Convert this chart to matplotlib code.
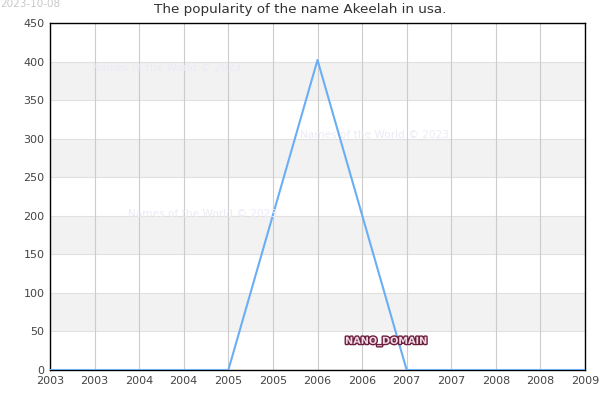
import numpy as np
import matplotlib.pyplot as plt
import matplotlib.patheffects as pe

years = [2003, 2004, 2005, 2006, 2007, 2008, 2009]
counts = [0, 0, 0, 402, 0, 0, 0]

tick_pos = np.arange(2003, 2009.01, 0.5)
tick_labels = [str(int(np.floor(t))) for t in tick_pos]
y_ticks = list(range(0, 451, 50))

fig = plt.figure(figsize=(6, 4), dpi=100)
ax = fig.add_axes([50 / 600, 30 / 400, 535 / 600, 347 / 400])

# alternating bands
for lo in (50, 150, 250, 350):
    ax.axhspan(lo, lo + 50, color="#f2f2f2", zorder=0, lw=0)
for y in y_ticks:
    ax.axhline(y, color="#e0e0e0", lw=0.8, zorder=1)
for x in tick_pos:
    ax.axvline(x, color="#cccccc", lw=0.8, zorder=1)

# watermarks
wm = dict(color="#ebebf7", fontsize=7.6, zorder=2, ha="left", va="center")
fig.text(92 / 600, 1 - 68 / 400, "Names of the World © 2023", **wm)
fig.text(300 / 600, 1 - 135 / 400, "Names of the World © 2023", **wm)
fig.text(128 / 600, 1 - 214 / 400, "Names of the World © 2023", **wm)

ax.plot(years, counts, color="#6aaef5", lw=1.5, zorder=3)

ax.set_xlim(2003, 2009)
ax.set_ylim(0, 450)
ax.set_xticks(tick_pos)
ax.set_xticklabels(tick_labels)
ax.set_yticks(y_ticks)
ax.tick_params(length=0, labelsize=8, labelcolor="#444444", pad=4)
for s in ax.spines.values():
    s.set_color("black")
    s.set_linewidth(1)

fig.text(0.5, 1 - 10 / 400, "The popularity of the name Akeelah in usa.",
         ha="center", va="center", fontsize=9.7, color="#333333")
fig.text(0, 1 - 4 / 400, "2023-10-08", ha="left", va="center",
         fontsize=7.5, color="#c8c8c8")

fig.text(386 / 600, 1 - 341 / 400, "NANO_DOMAIN", ha="center", va="center",
         fontsize=7, fontweight="bold", color="#f3dbe4",
         path_effects=[pe.withStroke(linewidth=2, foreground="#6b1f3e")], zorder=5)

fig.savefig("out.png", dpi=100)
